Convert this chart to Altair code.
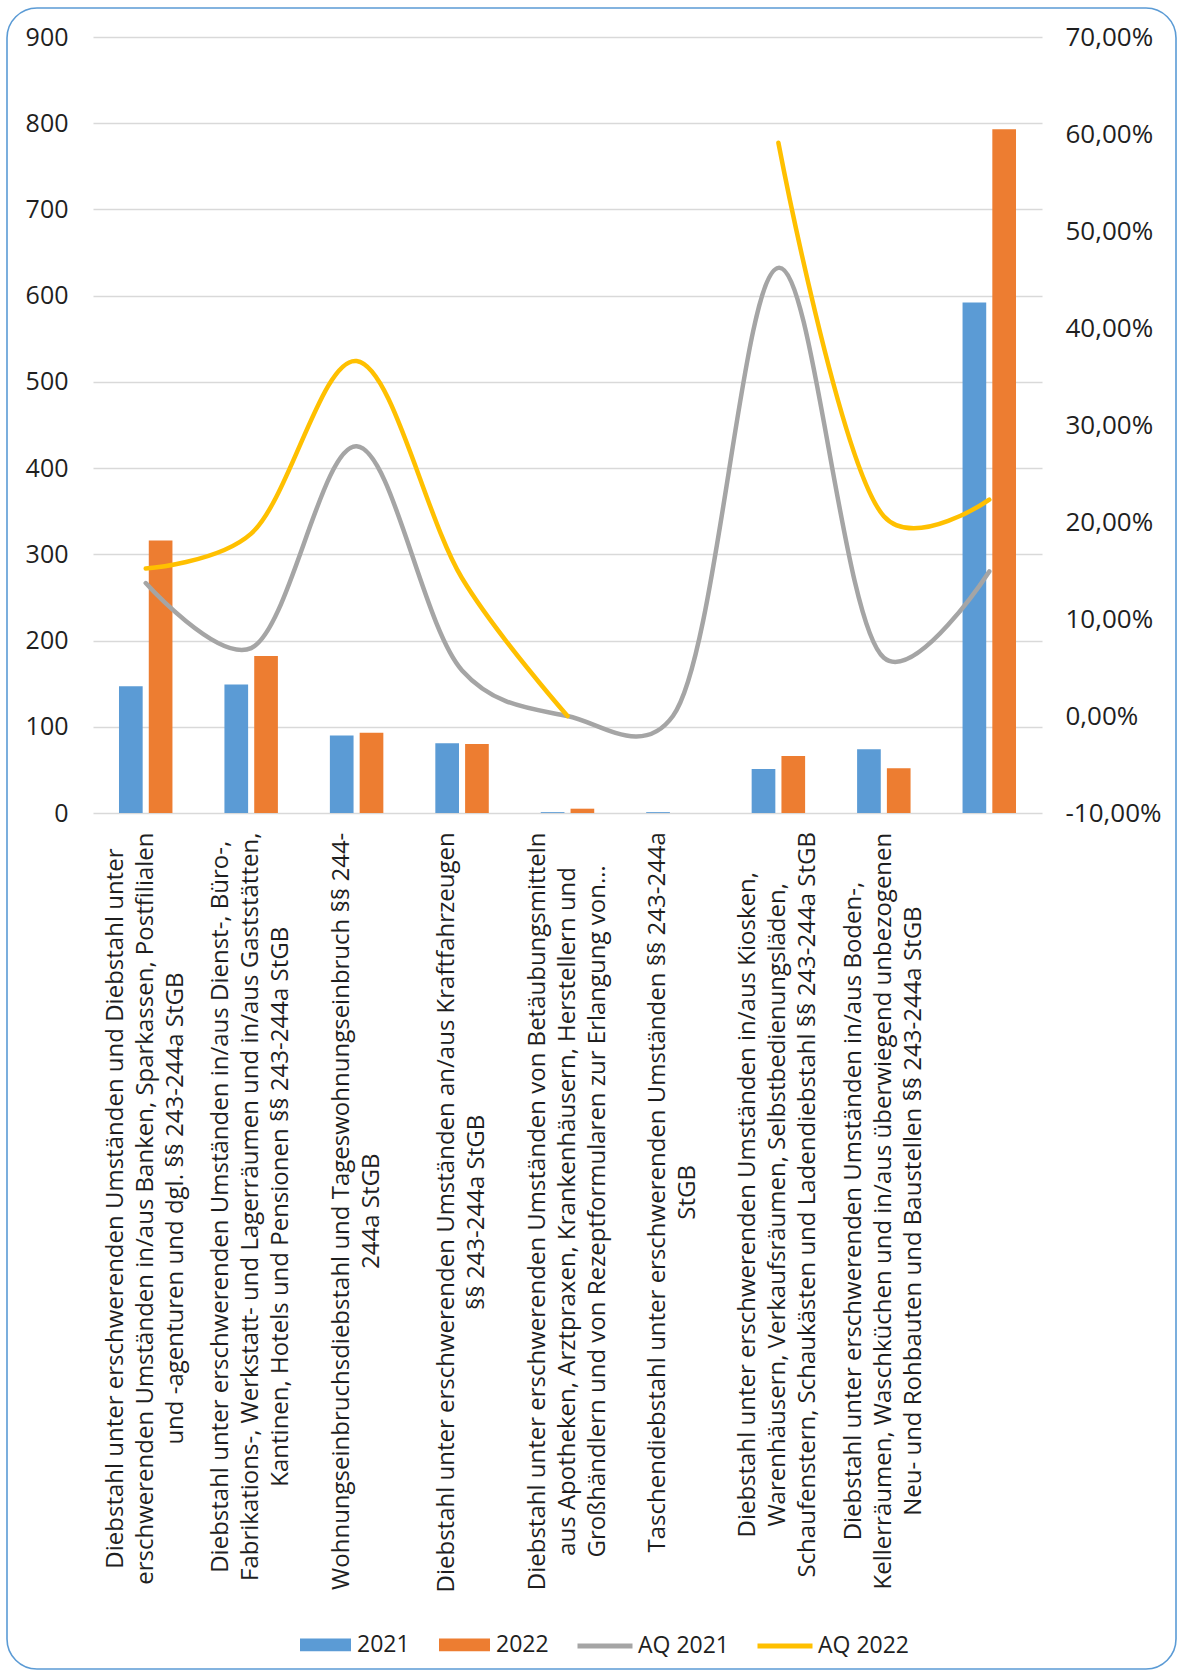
import json

import altair as alt
import pandas as pd

# ---------------------------------------------------------------------------
# Data
# ---------------------------------------------------------------------------
# Category names, already wrapped into the lines shown under the axis.
categories = [
    ["Diebstahl unter erschwerenden Umständen und Diebstahl unter",
     "erschwerenden Umständen in/aus Banken, Sparkassen, Postfilialen",
     "und -agenturen und dgl. §§ 243-244a StGB"],
    ["Diebstahl unter erschwerenden Umständen in/aus Dienst-, Büro-,",
     "Fabrikations-, Werkstatt- und Lagerräumen und in/aus Gaststätten,",
     "Kantinen, Hotels und Pensionen §§ 243-244a StGB"],
    ["Wohnungseinbruchsdiebstahl und Tageswohnungseinbruch §§ 244-",
     "244a StGB"],
    ["Diebstahl unter erschwerenden Umständen an/aus Kraftfahrzeugen",
     "§§ 243-244a StGB"],
    ["Diebstahl unter erschwerenden Umständen von Betäubungsmitteln",
     "aus Apotheken, Arztpraxen, Krankenhäusern, Herstellern und",
     "Großhändlern und von Rezeptformularen zur Erlangung von…"],
    ["Taschendiebstahl unter erschwerenden Umständen §§ 243-244a",
     "StGB"],
    ["Diebstahl unter erschwerenden Umständen in/aus Kiosken,",
     "Warenhäusern, Verkaufsräumen, Selbstbedienungsläden,",
     "Schaufenstern, Schaukästen und Ladendiebstahl §§ 243-244a StGB"],
    ["Diebstahl unter erschwerenden Umständen in/aus Boden-,",
     "Kellerräumen, Waschküchen und in/aus überwiegend unbezogenen",
     "Neu- und Rohbauten und Baustellen §§ 243-244a StGB"],
    [],
]

cases_2021 = [147, 149, 90, 81, 1, 1, 51, 74, 592]
cases_2022 = [316, 182, 93, 80, 5, 0, 66, 52, 793]

# Aufklärungsquote in percent (no value where there were no cases)
aq_2021 = [13.7, 7.0, 27.8, 4.7, 0.0, 0.0, 46.2, 6.0, 14.9]
aq_2022 = [15.2, 18.8, 36.6, 14.2, 0.0, None, 59.1, 20.6, 22.3]

bar_series = ["2021", "2022"]
line_series = ["AQ 2021", "AQ 2022"]

left_ticks = list(range(0, 901, 100))
right_ticks = list(range(-10, 71, 10))

# ---------------------------------------------------------------------------
# Styling
# ---------------------------------------------------------------------------
FONT = "Open Sans"
TEXT = "#1f1f1f"
GRID = "#d9d9d9"
BLUE, ORANGE = "#5b9bd5", "#ed7d31"
GREY, YELLOW = "#a5a5a5", "#ffc000"
FRAME = "#5b9bd5"

W, H = 949, 776
PAD = {"left": 93, "top": 37, "right": 142, "bottom": 863}

LABEL_SIZE = 24
LINE_HEIGHT = 30
LABEL_GAP = 19

# Approximate Open Sans advance widths (em) to centre the wrapped label
# blocks on their longest line just below the axis.
_EM = {
    " ": .26, "a": .556, "b": .613, "c": .476, "d": .613, "e": .561,
    "f": .339, "g": .548, "h": .614, "i": .253, "j": .253, "k": .525,
    "l": .253, "m": .93, "n": .614, "o": .604, "p": .613, "q": .613,
    "r": .408, "s": .477, "t": .353, "u": .614, "v": .501, "w": .778,
    "x": .524, "y": .502, "z": .458, "ä": .556, "ö": .604, "ü": .614,
    "ß": .63, "A": .633, "B": .648, "D": .722, "E": .547, "F": .5,
    "G": .701, "H": .725, "K": .604, "N": .748, "P": .613, "R": .621,
    "S": .542, "T": .547, "U": .722, "W": .942, "Q": .765,
    ",": .25, ".": .266, "-": .322, "/": .367, "§": .498, "…": .8,
}


def text_width(s, size):
    return sum(_EM.get(ch, .572) for ch in s) * size


keys = ["|".join(lines) for lines in categories]

# Per-label placement: push each block down by half its longest line and
# shift it sideways so the wrapped lines sit centred on the tick.
pad_conditions = []
offset_conditions = []
for key, lines in zip(keys, categories):
    if not lines:
        continue
    test = "datum.value === " + json.dumps(key, ensure_ascii=False)
    longest = max(text_width(line, LABEL_SIZE) for line in lines)
    pad_conditions.append({"test": test,
                           "value": round(LABEL_GAP + longest / 2, 1)})
    offset_conditions.append({"test": test,
                              "value": -(len(lines) - 1) * LINE_HEIGHT / 2})

# ---------------------------------------------------------------------------
# Tables
# ---------------------------------------------------------------------------
bar_rows = []
for key, a, b in zip(keys, cases_2021, cases_2022):
    bar_rows.append({"key": key, "series": "2021", "value": a})
    bar_rows.append({"key": key, "series": "2022", "value": b})
bar_df = pd.DataFrame(bar_rows)

line_rows = []
for key, a, b in zip(keys, aq_2021, aq_2022):
    line_rows.append({"key": key, "series": "AQ 2021", "aq": a})
    line_rows.append({"key": key, "series": "AQ 2022", "aq": b})
line_df = pd.DataFrame(line_rows)

# ---------------------------------------------------------------------------
# Chart
# ---------------------------------------------------------------------------
x_scale = alt.Scale(domain=keys, paddingInner=0.493, paddingOuter=0.2465)
x_axis = alt.Axis(
    title=None,
    labelExpr="split(datum.value, '|')",
    labelAngle=270,
    labelAlign="center",
    labelBaseline="middle",
    labelPadding={"condition": pad_conditions, "value": LABEL_GAP},
    labelOffset={"condition": offset_conditions, "value": 0},
    labelFont=FONT,
    labelFontSize=LABEL_SIZE,
    labelLineHeight=LINE_HEIGHT,
    labelColor=TEXT,
    labelLimit=1000,
    labelOverlap=False,
    labelFlush=False,
    ticks=False,
    tickSize=0,
    domain=False,
    grid=False,
)
x_enc = alt.X("key:N", scale=x_scale, axis=x_axis, sort=keys)

bars = alt.Chart(bar_df).mark_bar().encode(
    x=x_enc,
    xOffset=alt.XOffset(
        "series:N",
        scale=alt.Scale(domain=bar_series, paddingInner=0.205, paddingOuter=0),
    ),
    y=alt.Y(
        "value:Q",
        scale=alt.Scale(domain=[0, 900], nice=False),
        axis=alt.Axis(
            orient="left", title=None, values=left_ticks, grid=True,
            gridColor=GRID, gridWidth=1.5, domain=False, ticks=False,
            labelPadding=25, labelFont=FONT, labelFontSize=25,
            labelColor=TEXT,
        ),
    ),
    color=alt.Color(
        "series:N",
        scale=alt.Scale(domain=bar_series, range=[BLUE, ORANGE]),
        legend=alt.Legend(
            orient="none", legendX=207, legendY=1582, direction="horizontal",
            title=None, symbolType="M-1,-0.25H1V0.25H-1Z", symbolSize=2601,
            symbolStrokeWidth=0, symbolOpacity=1, labelFont=FONT,
            labelFontSize=23, labelColor=TEXT, labelOffset=6,
            columnPadding=29, padding=0,
        ),
    ),
)

lines = alt.Chart(line_df).mark_line(
    interpolate="catmull-rom", tension=0.25, strokeWidth=4.5,
    strokeCap="round", invalid="break-paths-show-domains",
).encode(
    x=x_enc,
    y=alt.Y(
        "aq:Q",
        scale=alt.Scale(domain=[-10, 70], nice=False),
        axis=alt.Axis(
            orient="right", title=None, values=right_ticks, grid=False,
            domain=False, ticks=False, labelPadding=23, labelFont=FONT,
            labelFontSize=26, labelColor=TEXT,
            labelExpr="(datum.value < 0 ? '-' : '') + "
                      "replace(format(abs(datum.value), '.2f'), '.', ',') + '%'",
        ),
    ),
    stroke=alt.Stroke(
        "series:N",
        scale=alt.Scale(domain=line_series, range=[GREY, YELLOW]),
        legend=alt.Legend(
            orient="none", legendX=482, legendY=1579, direction="horizontal",
            title=None, symbolType="stroke", symbolSize=3025,
            symbolStrokeWidth=5, labelFont=FONT, labelFontSize=23,
            labelColor=TEXT, labelOffset=3, columnPadding=17, padding=0,
        ),
    ),
)

# Rounded outline around the whole chart
frame = alt.Chart(alt.Data(values=[{}])).mark_rect(
    fillOpacity=0, stroke=FRAME, strokeWidth=1.6, cornerRadius=30,
).encode(
    x=alt.value(-86), x2=alt.value(1083),
    y=alt.value(-29), y2=alt.value(1632),
)

chart = (
    alt.layer(bars, lines, frame)
    .resolve_scale(y="independent")
    .properties(
        width=W, height=H,
        autosize=alt.AutoSizeParams(type="none"),
        padding=PAD,
        background="white",
    )
    .configure_view(strokeWidth=0)
)

chart.save("out.html", embed_options={"renderer": "svg", "actions": False})
